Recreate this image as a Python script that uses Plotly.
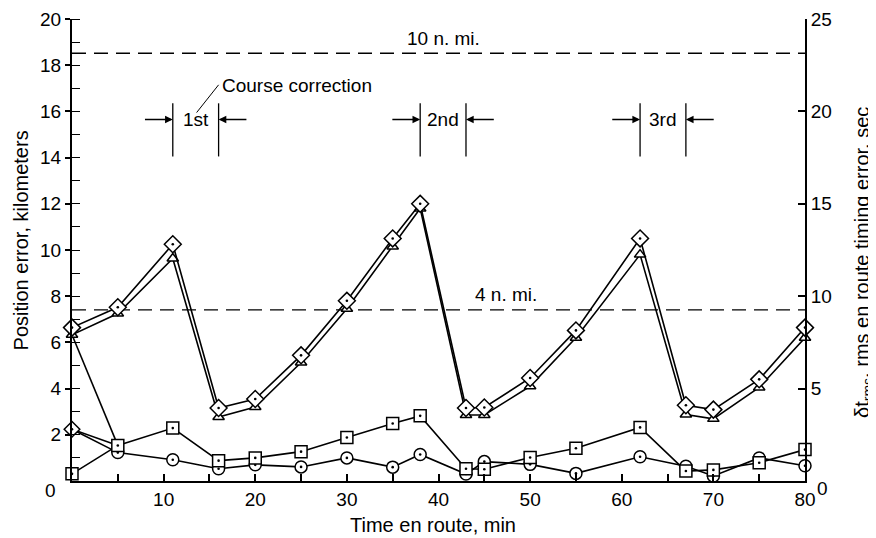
import plotly.graph_objects as go

# ---------------- data ----------------
time_min = [0, 5, 11, 16, 20, 25, 30, 35, 38, 43, 45, 50, 55, 62, 67, 70, 75, 80]
diamond_km = [6.64, 7.52, 10.25, 3.16, 3.55, 5.44, 7.8, 10.5, 12.0, 3.16, 3.18, 4.46, 6.52, 10.5, 3.28, 3.09, 4.4, 6.64]
triangle_km = [6.33, 7.25, 9.63, 2.77, 3.2, 5.13, 7.46, 10.15, 11.8, 2.86, 2.86, 4.1, 6.2, 9.8, 2.88, 2.69, 4.05, 6.2]
square_km = [0.31, 1.54, 2.29, 0.88, 1.0, 1.27, 1.88, 2.49, 2.82, 0.53, 0.51, 1.02, 1.42, 2.32, 0.43, 0.48, 0.79, 1.36]
circle_km = [2.24, 1.23, 0.92, 0.53, 0.7, 0.61, 1.0, 0.6, 1.15, 0.3, 0.84, 0.72, 0.33, 1.05, 0.64, 0.22, 1.0, 0.66]

# initial transient segments (start values joined to the 5-min square point)
transient_t = [0, 5, None, 0, 5]
transient_km = [6.33, 1.54, None, 2.24, 1.54]

ref_levels_km = [18.52, 7.41]
ref_labels = ["10 n. mi.", "4 n. mi."]
ref_label_t = [40.5, 47.4]

corr_start = [11, 38, 62]
corr_end = [16, 43, 67]
corr_labels = ["1st", "2nd", "3rd"]

x_ticks = [10, 20, 30, 40, 50, 60, 70, 80]
left_ticks = [2, 4, 6, 8, 10, 12, 14, 16, 18, 20]
right_ticks = [5, 10, 15, 20, 25]

# ---------------- styling ----------------
FONT = "Liberation Sans"
BLACK = "black"
mline = dict(color=BLACK, width=1.5)

fig = go.Figure()

def series(y, symbol, size):
    fig.add_trace(go.Scatter(
        x=time_min, y=y, mode="lines+markers",
        line=dict(color=BLACK, width=1.6),
        marker=dict(symbol=symbol, size=size, color="white", line=mline),
        showlegend=False, hoverinfo="skip", cliponaxis=False))

def dots(y):
    fig.add_trace(go.Scatter(
        x=time_min, y=y, mode="markers",
        marker=dict(symbol="circle", size=2.6, color=BLACK),
        showlegend=False, hoverinfo="skip", cliponaxis=False))

# transients
fig.add_trace(go.Scatter(x=transient_t, y=transient_km, mode="lines",
                         line=dict(color=BLACK, width=1.6),
                         showlegend=False, hoverinfo="skip"))

circle_symbols = ["diamond"] + ["circle"] * (len(time_min) - 1)
series(circle_km, circle_symbols, 12)
dots(circle_km)
series(square_km, "square", 12)
dots(square_km)
series(triangle_km, "triangle-up", 10)
series(diamond_km, "diamond", 13)
dots(diamond_km)

# carrier for right axis
fig.add_trace(go.Scatter(x=[time_min[0]], y=[0], yaxis="y2", mode="markers",
                         marker=dict(opacity=0), showlegend=False, hoverinfo="skip"))

shapes = []
annotations = []
afont = dict(size=19, family=FONT, color=BLACK)

# reference dashed lines
for lvl, lab, lt in zip(ref_levels_km, ref_labels, ref_label_t):
    shapes.append(dict(type="line", xref="x", yref="y", x0=0, x1=80, y0=lvl, y1=lvl,
                       line=dict(color=BLACK, width=1.4, dash="14px,8px"), layer="below"))
    annotations.append(dict(x=lt, y=lvl, xref="x", yref="y", text=lab, showarrow=False,
                            xanchor="center", yanchor="middle", yshift=15, font=afont))

# course correction brackets
for t0, t1, lab in zip(corr_start, corr_end, corr_labels):
    for t in (t0, t1):
        shapes.append(dict(type="line", xref="x", yref="y", x0=t, x1=t, y0=14.05, y1=16.35,
                           line=dict(color=BLACK, width=1.3)))
    annotations.append(dict(x=t0, y=15.65, ax=t0 - 3.2, ay=15.65, axref="x", ayref="y",
                            xref="x", yref="y", text="", showarrow=True, arrowhead=2,
                            arrowsize=1.1, arrowwidth=1.4, arrowcolor=BLACK))
    annotations.append(dict(x=t1, y=15.65, ax=t1 + 3.2, ay=15.65, axref="x", ayref="y",
                            xref="x", yref="y", text="", showarrow=True, arrowhead=2,
                            arrowsize=1.1, arrowwidth=1.4, arrowcolor=BLACK))
    annotations.append(dict(x=(t0 + t1) / 2, y=15.65, xref="x", yref="y", text=lab,
                            xanchor="center", yanchor="middle", showarrow=False, font=afont))

# "Course correction" leader
shapes.append(dict(type="line", xref="x", yref="y", x0=16.0, y0=17.15, x1=13.6, y1=15.95,
                   line=dict(color=BLACK, width=1)))
annotations.append(dict(x=16.1, y=17.1, xref="x", yref="y", text="Course correction",
                        xanchor="left", yanchor="middle", showarrow=False, font=afont))

# zero labels
annotations.append(dict(x=-0.030, y=-0.0195, xref="paper", yref="paper", text="0",
                        xanchor="center", yanchor="middle", showarrow=False, font=afont))
annotations.append(dict(x=1.0245, y=-0.016, xref="paper", yref="paper", text="0",
                        xanchor="center", yanchor="middle", showarrow=False, font=afont))

# axis titles
tfont = dict(size=20, family=FONT, color=BLACK)
annotations.append(dict(x=-0.07, y=0.52, xref="paper", yref="paper",
                        text="Position error, kilometers", textangle=-90, showarrow=False,
                        xanchor="center", yanchor="middle", font=tfont))
annotations.append(dict(x=0.4925, y=-0.095, xref="paper", yref="paper",
                        text="Time en route, min", showarrow=False,
                        xanchor="center", yanchor="middle", font=tfont))
annotations.append(dict(x=1.079, y=0.474, xref="paper", yref="paper",
                        text="δt<sub>rms</sub>, rms en route timing error, sec",
                        textangle=-90, showarrow=False,
                        xanchor="center", yanchor="middle", font=tfont))

tickfont = dict(size=19, family=FONT, color=BLACK)

# the page body adds an 8px offset; margins compensate so the plot area
# lands at page x 72..805, y 19..481
fig.update_layout(
    width=876, height=538,
    margin=dict(l=64, r=79, t=11, b=65, autoexpand=False),
    paper_bgcolor="white", plot_bgcolor="white",
    font=dict(family=FONT, color=BLACK),
    showlegend=False,
    shapes=shapes, annotations=annotations,
    xaxis=dict(range=[0, 80], tickvals=x_ticks, showline=True, linewidth=2, linecolor=BLACK,
               ticks="inside", ticklen=7, tickwidth=1.5, tickcolor=BLACK, automargin=False,
               minor=dict(dtick=5, tick0=0, ticks="inside", ticklen=7, tickwidth=1.5, tickcolor=BLACK),
               showgrid=False, zeroline=False, tickfont=tickfont),
    yaxis=dict(range=[0, 20], tickvals=left_ticks, showline=True, linewidth=2, linecolor=BLACK,
               ticks="outside", ticklen=5, tickwidth=1.5, tickcolor=BLACK, automargin=False,
               minor=dict(dtick=1, tick0=0, ticks="inside", ticklen=8, tickwidth=1.3, tickcolor=BLACK),
               showgrid=False, zeroline=False, tickfont=tickfont),
    yaxis2=dict(range=[0, 25], overlaying="y", side="right", tickvals=right_ticks,
                showline=True, linewidth=2, linecolor=BLACK, automargin=False,
                ticks="inside", ticklen=7, tickwidth=1.5, tickcolor=BLACK,
                showgrid=False, zeroline=False, tickfont=tickfont),
)

fig.write_html("out.html")
